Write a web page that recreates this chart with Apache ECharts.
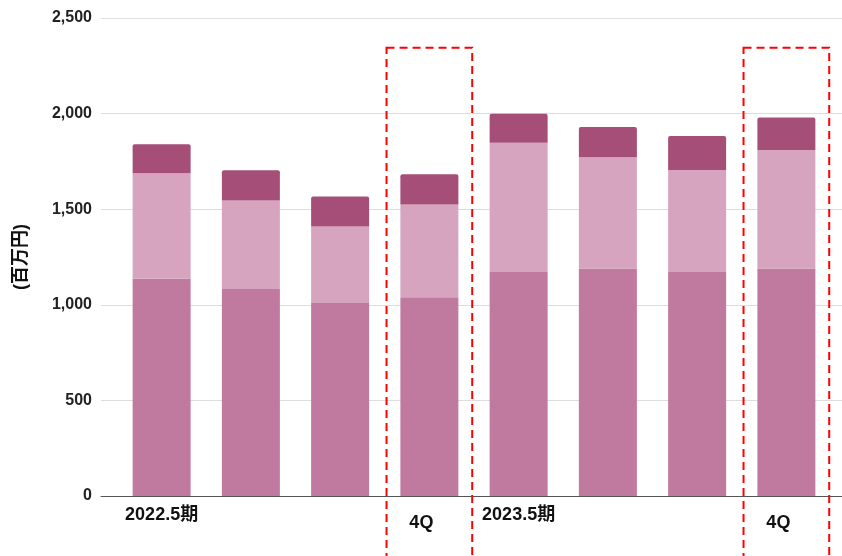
<!DOCTYPE html>
<html>
<head>
<meta charset="utf-8">
<script src="https://cdn.jsdelivr.net/npm/echarts@6/dist/echarts.min.js"></script>
<style>
html,body{margin:0;padding:0;background:#fff;}
#chart{width:842px;height:556px;}
</style>
</head>
<body>
<div id="chart"></div>
<script>
const categories = ["2022.5期", "", "", "4Q", "2023.5期", "", "", "4Q"];
const seriesBottom = [1136, 1082, 1009, 1040, 1171, 1190, 1171, 1190];
const seriesMiddle = [552, 463, 400, 484, 677, 582, 534, 620];
const seriesTop = [152, 159, 157, 159, 151, 158, 178, 169];
const yTicks = [0, 500, 1000, 1500, 2000, 2500];
const yAxisName = "(百万円)";
const highlightLabel = "4Q";
const highlightTopValue = 2345;

const font = "'Liberation Sans', Arial, 'Noto Sans CJK JP', sans-serif";
const chart = echarts.init(document.getElementById('chart'));
const yMin = yTicks[0], yMax = yTicks[yTicks.length - 1], yStep = yTicks[1] - yTicks[0];

const option = {
  animation: false,
  backgroundColor: '#ffffff',
  grid: [
    { left: 101, right: 0, top: 18, bottom: 60, containLabel: false, outerBoundsMode: 'none' },
    { left: 117, right: 11, top: 18, bottom: 60, containLabel: false, outerBoundsMode: 'none' }
  ],
  xAxis: [
    {
      gridIndex: 0, type: 'value', min: 0, max: 1,
      axisLine: { show: true, onZero: false, lineStyle: { color: '#555555', width: 1 } },
      axisTick: { show: false }, axisLabel: { show: false }, splitLine: { show: false }
    },
    {
      gridIndex: 1,
      type: 'category',
      data: categories,
      axisTick: { show: false },
      axisLine: { show: false },
      axisLabel: {
        interval: 0,
        margin: 10,
        color: '#111111',
        fontFamily: font,
        fontWeight: 'bold',
        fontSize: 18,
        formatter: function (v) { return v === highlightLabel ? '{q|' + v + '}' : '{p|' + v + '}'; },
        rich: {
          p: { fontFamily: font, fontWeight: 'bold', fontSize: 18, color: '#111111' },
          q: { fontFamily: font, fontWeight: 'bold', fontSize: 18, color: '#111111', padding: [8, 16, 0, 0] }
        }
      }
    }
  ],
  yAxis: [
    {
      gridIndex: 0,
      type: 'value',
      min: yMin, max: yMax, interval: yStep,
      name: yAxisName,
      nameLocation: 'middle',
      nameGap: 71,
      nameTextStyle: { fontFamily: font, fontWeight: 'bold', fontSize: 18, color: '#111111' },
      axisLine: { show: false },
      axisTick: { show: false },
      splitLine: { lineStyle: { color: '#dddddd', width: 1 } },
      axisLabel: {
        margin: 9,
        color: '#222222',
        fontFamily: font,
        fontWeight: 'bold',
        fontSize: 16,
        formatter: function (v) { return v.toLocaleString('en-US'); }
      }
    },
    {
      gridIndex: 1,
      type: 'value',
      min: yMin, max: yMax, interval: yStep,
      axisLine: { show: false }, axisTick: { show: false },
      axisLabel: { show: false }, splitLine: { show: false }
    }
  ],
  series: [
    { type: 'bar', xAxisIndex: 1, yAxisIndex: 1, stack: 's', data: seriesBottom, barWidth: 58, itemStyle: { color: '#c07a9f' } },
    { type: 'bar', xAxisIndex: 1, yAxisIndex: 1, stack: 's', data: seriesMiddle, barWidth: 58, itemStyle: { color: '#d6a4bf' } },
    { type: 'bar', xAxisIndex: 1, yAxisIndex: 1, stack: 's', data: seriesTop, barWidth: 58, itemStyle: { color: '#a54e78', borderRadius: [2, 2, 0, 0] } }
  ]
};
chart.setOption(option);

const p0 = chart.convertToPixel({ xAxisIndex: 1 }, 0);
const p1 = chart.convertToPixel({ xAxisIndex: 1 }, 1);
const band = p1 - p0;
const topY = chart.convertToPixel({ yAxisIndex: 1 }, highlightTopValue);
const rects = [];
categories.forEach(function (c, i) {
  if (c === highlightLabel) {
    const cx = chart.convertToPixel({ xAxisIndex: 1 }, i);
    rects.push({
      type: 'rect',
      shape: { x: cx - 0.48 * band, y: topY, width: 0.96 * band, height: 600 },
      style: { fill: 'none', stroke: '#ff0000', lineWidth: 2, lineDash: [8, 5] },
      z: 100
    });
  }
});
chart.setOption({ graphic: rects });
</script>
</body>
</html>
